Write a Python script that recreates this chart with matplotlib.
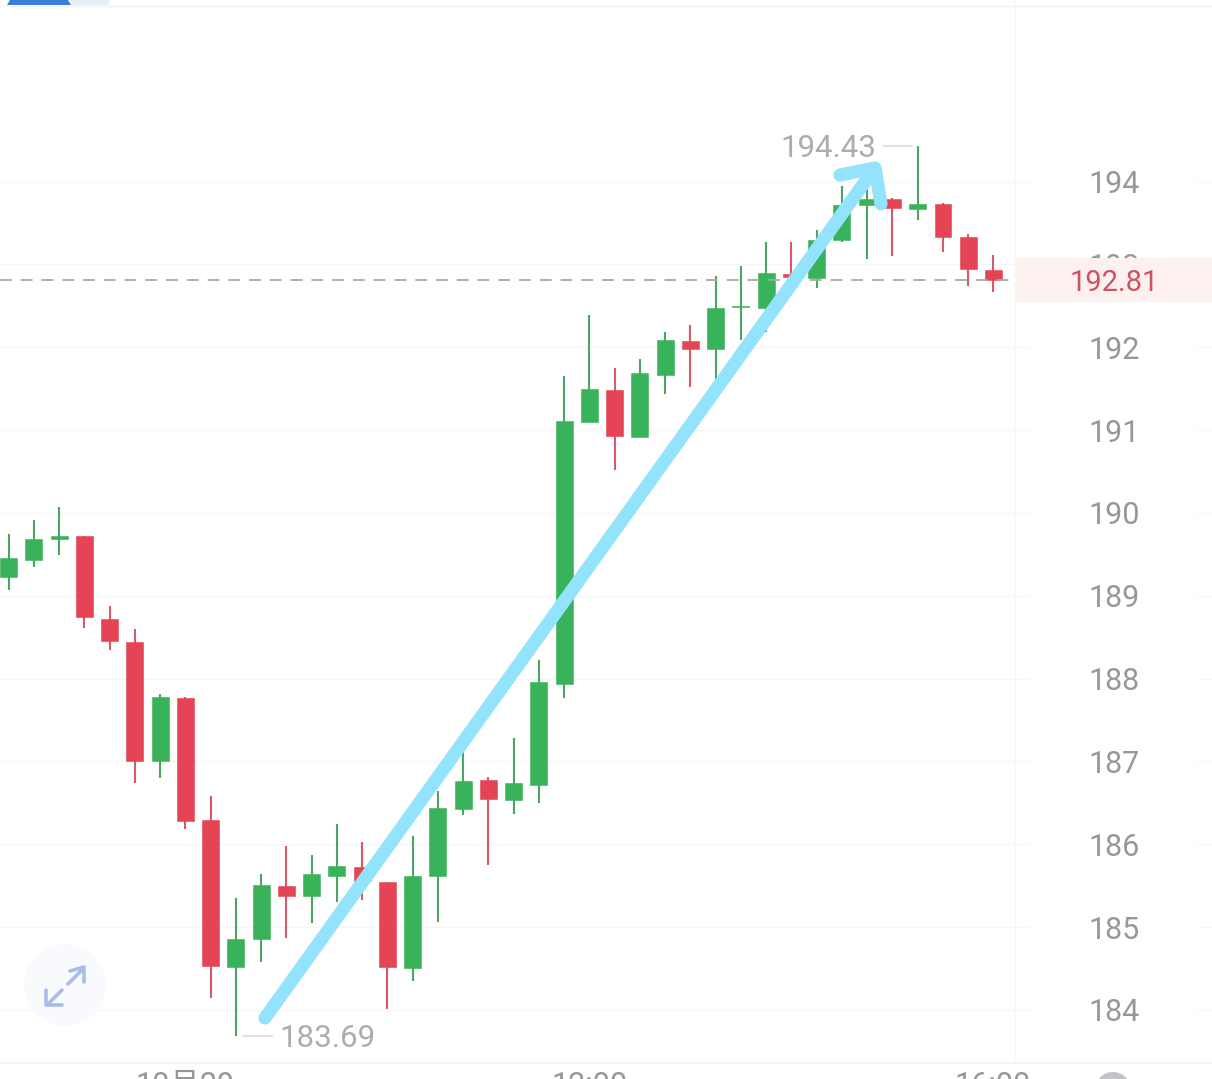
import matplotlib
matplotlib.use('Agg')
import matplotlib.pyplot as plt
from matplotlib.patches import Circle, Rectangle, Polygon
from matplotlib.transforms import blended_transform_factory

# prices, one entry per candle
highs = [189.74, 189.91, 190.07, 189.72, 188.88, 188.60, 187.81, 187.78, 186.58, 185.35,
         185.64, 185.98, 185.87, 186.24, 186.03, 185.54, 186.10, 186.64, 187.13, 186.81,
         187.28, 188.23, 191.65, 192.39, 191.75, 191.86, 192.18, 192.27, 192.86, 192.98,
         193.27, 193.27, 193.41, 193.94, 193.94, 193.80, 194.43, 193.74, 193.37, 193.11]
lows = [189.07, 189.35, 189.49, 188.61, 188.34, 186.74, 186.80, 186.19, 184.15, 183.69,
        184.58, 184.87, 185.05, 185.30, 185.33, 184.01, 184.35, 185.06, 186.35, 185.75,
        186.36, 186.50, 187.77, 191.10, 190.52, 190.92, 191.44, 191.52, 191.59, 192.09,
        192.18, 192.65, 192.72, 193.27, 193.07, 193.10, 193.53, 193.15, 192.74, 192.67]
opens = [189.23, 189.43, 189.68, 189.72, 188.72, 188.44, 187.00, 187.77, 186.29, 184.52,
         184.86, 185.50, 185.38, 185.62, 185.73, 185.54, 184.51, 185.62, 186.43, 186.78,
         186.53, 186.72, 187.93, 191.10, 191.48, 190.92, 191.67, 192.08, 191.98, 192.48,
         192.47, 192.88, 192.84, 193.29, 193.72, 193.79, 193.67, 193.73, 193.33, 192.93]
closes = [189.45, 189.69, 189.72, 188.74, 188.45, 187.00, 187.78, 186.28, 184.53, 184.86,
          185.51, 185.38, 185.64, 185.74, 185.56, 184.52, 185.62, 186.44, 186.77, 186.55,
          186.74, 187.96, 191.11, 191.49, 190.93, 191.69, 192.09, 191.98, 192.47, 192.50,
          192.89, 192.85, 193.30, 193.72, 193.79, 193.68, 193.73, 193.33, 192.94, 192.81]
price_ticks = [184, 185, 186, 187, 188, 189, 190, 191, 192, 193, 194]
last_price = 192.81
date_labels = ['10月29', '12:00', '16:00']

GREEN = '#38b35a'
RED = '#e44454'
GREY = '#979797'
FONT = ['Roboto', 'Noto Sans CJK SC', 'DejaVu Sans']

fig = plt.figure(figsize=(12.12, 10.79), dpi=100)
ax = fig.add_axes([0, 0, 1, 1])
ax.set_xlim(-0.3446, 47.655)
ax.set_ylim(183.167, 196.191)
ax.axis('off')

# second axes in picture pixels, for the app chrome and the hand drawn arrow
over = fig.add_axes([0, 0, 1, 1], facecolor='none')
over.set_xlim(0, 1212)
over.set_ylim(1079, 0)
over.axis('off')
over.set_zorder(ax.get_zorder() + 1)

px_y = blended_transform_factory(over.transData, ax.transData)

# grid and axis labels
for p in price_ticks:
    ax.plot([0, 1028], [p, p], transform=px_y, color='#f5f6f8', lw=1, zorder=1)
    ax.plot([1197, 1212], [p, p], transform=px_y, color='#f5f6f8', lw=1, zorder=1)
    ax.text(1114, p, str(p), transform=px_y, family=FONT, fontsize=22,
            color=GREY, ha='center', va='center_baseline', zorder=2)

over.plot([1015, 1015], [0, 1062], color='#f5f6f7', lw=1, zorder=1)
over.plot([0, 1212], [1063, 1063], color='#f2f3f4', lw=1.5, zorder=1)
over.plot([0, 1212], [5.5, 5.5], color='#f2f3f5', lw=1, zorder=1)

# candles
for i in range(len(highs)):
    up = closes[i] >= opens[i]
    col = GREEN if up else RED
    wick = '#4aa566' if up else '#d9596c'
    ax.plot([i, i], [lows[i], highs[i]], color=wick, lw=1.5, zorder=3, solid_capstyle='butt')
    ax.add_patch(Rectangle((i - 0.335, min(opens[i], closes[i])), 0.67, abs(closes[i] - opens[i]),
                           facecolor=col, edgecolor=col, lw=0.4, zorder=4))

# last price line and box
ax.plot([0, 1015], [last_price, last_price], transform=px_y, color='#a8a8a8', lw=1.3,
        dashes=(6.5, 5), zorder=5)
ax.add_patch(Rectangle((1015, last_price - 0.265), 197, 0.53, transform=px_y,
                       facecolor='#fdf1f0', edgecolor='none', zorder=6))
ax.text(1114, last_price, '%.2f' % last_price, transform=px_y, family=FONT, fontsize=21,
        color='#cc5264', ha='center', va='center_baseline', zorder=7)

# high and low markers
hi = highs.index(max(highs))
lo = lows.index(min(lows))
ax.plot([883, 912], [highs[hi], highs[hi]], transform=px_y, color='#dcdcdc', lw=1.2, zorder=3)
ax.plot([243, 272], [lows[lo], lows[lo]], transform=px_y, color='#dcdcdc', lw=1.2, zorder=3)
ax.text(876, highs[hi], '%.2f' % highs[hi], transform=px_y, family=FONT, fontsize=22.5,
        color='#adadad', ha='right', va='center_baseline', zorder=3)
ax.text(279, lows[lo], '%.2f' % lows[lo], transform=px_y, family=FONT, fontsize=22.5,
        color='#adadad', ha='left', va='center_baseline', zorder=3)

# date labels, cut off by the bottom of the screenshot
for x, lab in zip([185, 590, 993], date_labels):
    over.text(x, 1071, lab, family=FONT, fontsize=22, color=GREY,
              ha='center', va='top', clip_on=True)
over.add_patch(Circle((1113, 1090), 18, facecolor='#c4c4c8', edgecolor='none'))

# top tab
over.add_patch(Polygon([(7, 5), (10, 0), (68, 0), (71, 5)], facecolor='#3a7fdc', edgecolor='none'))
over.add_patch(Rectangle((71, 0), 38, 5, facecolor='#e8edfb', edgecolor='none'))

# expand button
over.add_patch(Circle((65, 985), 41, facecolor='#f8fafe', edgecolor='none', zorder=3))
icon = '#a9bde8'
for xs, ys in [([68, 83], [984, 969]), ([70, 84, 84], [971, 967, 982]),
               ([47, 62], [1005, 990]), ([46, 46, 62], [990, 1005, 1005])]:
    over.plot(xs, ys, color=icon, lw=2.6, solid_capstyle='round', solid_joinstyle='round', zorder=4)

# hand drawn arrow
cyan = '#92e3fb'
over.plot([265, 872], [1018, 172], color=cyan, lw=9.5, solid_capstyle='round', zorder=8)
over.plot([840, 875, 881], [175, 168, 204], color=cyan, lw=9.5, solid_capstyle='round',
          solid_joinstyle='round', zorder=8)

fig.savefig('out.png', dpi=100, facecolor='white')
